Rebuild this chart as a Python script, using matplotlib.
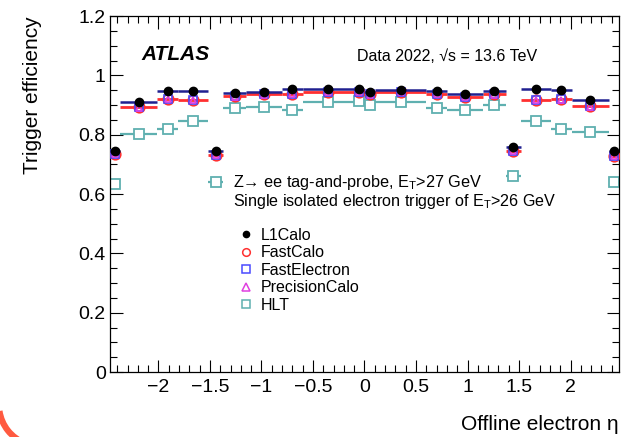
import numpy as np
import matplotlib
matplotlib.use("Agg")
import matplotlib.pyplot as plt
from matplotlib.lines import Line2D
from matplotlib.patches import Arc
from matplotlib.ticker import MultipleLocator, FuncFormatter

plt.rcParams['font.family'] = ['Liberation Sans', 'DejaVu Sans']
plt.rcParams['mathtext.fontset'] = 'custom'
plt.rcParams['mathtext.rm'] = 'Liberation Sans'
plt.rcParams['mathtext.it'] = 'Liberation Sans:italic'

# eta bin edges
edges = np.array([-2.47, -2.37, -2.01, -1.81, -1.52, -1.37, -1.15, -0.8, -0.6, -0.1, 0.0,
                  0.1, 0.6, 0.8, 1.15, 1.37, 1.52, 1.81, 2.01, 2.37, 2.47])
centers = 0.5 * (edges[1:] + edges[:-1])
halfw = 0.5 * (edges[1:] - edges[:-1])

l1calo = [0.744, 0.911, 0.947, 0.946, 0.744, 0.941, 0.945, 0.953, 0.955, 0.953,
          0.945, 0.950, 0.947, 0.939, 0.949, 0.759, 0.953, 0.950, 0.916, 0.747]
fastcalo = [0.736, 0.893, 0.921, 0.917, 0.733, 0.930, 0.936, 0.939, 0.945, 0.944,
            0.936, 0.944, 0.939, 0.927, 0.936, 0.747, 0.917, 0.919, 0.896, 0.730]
fastelectron = [0.735, 0.893, 0.921, 0.917, 0.732, 0.930, 0.936, 0.939, 0.945, 0.944,
                0.936, 0.944, 0.939, 0.927, 0.936, 0.746, 0.917, 0.919, 0.896, 0.729]
precisioncalo = [0.735, 0.892, 0.920, 0.916, 0.732, 0.929, 0.935, 0.938, 0.944, 0.943,
                 0.935, 0.943, 0.938, 0.926, 0.935, 0.746, 0.916, 0.918, 0.895, 0.729]
hlt = [0.634, 0.803, 0.820, 0.848, 0.640, 0.891, 0.893, 0.885, 0.910, 0.913,
       0.899, 0.910, 0.891, 0.885, 0.900, 0.660, 0.846, 0.820, 0.810, 0.640]

labels = ["L1Calo", "FastCalo", "FastElectron", "PrecisionCalo", "HLT"]

fig = plt.figure(figsize=(6.3, 4.37), dpi=100)
ax = fig.add_axes([0.1746, 0.1487, 0.8079, 0.8143])

c_hlt = '#5fb0b0'
c_red = '#ff3030'
c_blue = '#4a4aff'
c_mag = '#e040e0'
c_navy = '#202090'

ax.errorbar(centers, hlt, xerr=halfw, fmt='s', ms=7, mfc='white', mec=c_hlt, mew=1.3,
            ecolor=c_hlt, elinewidth=1.6, capsize=0, zorder=2)
ax.errorbar(centers, fastcalo, xerr=halfw, fmt='o', ms=7.5, mfc='none', mec=c_red, mew=1.3,
            ecolor=c_red, elinewidth=2.0, capsize=0, zorder=3)
ax.errorbar(centers, fastelectron, xerr=halfw, fmt='s', ms=5.5, mfc='none', mec=c_blue, mew=1.2,
            ecolor=c_red, elinewidth=0.01, capsize=0, zorder=4)
ax.errorbar(centers, precisioncalo, xerr=halfw, fmt='^', ms=4.5, mfc='none', mec=c_mag, mew=1.2,
            ecolor=c_mag, elinewidth=0.01, capsize=0, zorder=5)
ax.errorbar(centers, l1calo, xerr=halfw, fmt='o', ms=6, mfc='black', mec='black',
            ecolor=c_navy, elinewidth=1.8, capsize=0, zorder=6)

fmt = FuncFormatter(lambda v, p: ('%g' % v).replace('-', '\u2212'))
ax.set_xlim(-2.47, 2.47)
ax.set_ylim(0, 1.2)
ax.xaxis.set_major_locator(MultipleLocator(0.5))
ax.xaxis.set_minor_locator(MultipleLocator(0.1))
ax.yaxis.set_major_locator(MultipleLocator(0.2))
ax.yaxis.set_minor_locator(MultipleLocator(0.05))
ax.yaxis.set_major_formatter(fmt)
ax.xaxis.set_major_formatter(fmt)
ax.tick_params(which='both', direction='in', top=True, right=True, labelsize=14, width=0.8)
ax.tick_params(which='major', length=9)
ax.tick_params(which='minor', length=5)
ax.tick_params(axis='x', pad=5)
ax.tick_params(axis='y', pad=3)
for s in ax.spines.values():
    s.set_linewidth(0.9)

ax.set_xlabel("Offline electron η", loc='right', fontsize=15, labelpad=14)
ax.set_ylabel("Trigger efficiency", loc='top', fontsize=15, labelpad=26)

ax.text(0.062, 0.893, "ATLAS", transform=ax.transAxes, fontsize=15, fontweight='bold',
        style='italic', va='center', ha='left')
ax.text(0.485, 0.887, "Data 2022, √s = 13.6 TeV", transform=ax.transAxes, fontsize=11.5,
        va='center', ha='left')
ax.text(0.242, 0.533, r"Z→ ee tag-and-probe, E$_{\mathrm{T}}$>27 GeV", transform=ax.transAxes,
        fontsize=11.7, va='center', ha='left')
ax.text(0.242, 0.478, r"Single isolated electron trigger of E$_{\mathrm{T}}$>26 GeV",
        transform=ax.transAxes, fontsize=11.6, va='center', ha='left')

handles = [
    Line2D([], [], ls='none', marker='o', ms=4.5, mfc='black', mec='black'),
    Line2D([], [], ls='none', marker='o', ms=5.5, mfc='none', mec=c_red, mew=1.1),
    Line2D([], [], ls='none', marker='s', ms=5.5, mfc='none', mec=c_blue, mew=1.1),
    Line2D([], [], ls='none', marker='^', ms=5.5, mfc='none', mec=c_mag, mew=1.1),
    Line2D([], [], ls='none', marker='s', ms=5.5, mfc='none', mec=c_hlt, mew=1.1),
]
leg = ax.legend(handles, labels, loc='upper left', bbox_to_anchor=(0.252, 0.406), frameon=False,
                fontsize=11.5, handlelength=0.95, handletextpad=0.45, labelspacing=0.16,
                borderaxespad=0, borderpad=0)

# partial logo arc at bottom-left corner
arc = Arc((40 / 630, 32 / 437), 2 * 41 / 630, 2 * 41 / 437, theta1=192, theta2=255,
          transform=fig.transFigure, color='#ff5a40', lw=4.5, clip_on=False)
fig.patches.append(arc)

fig.savefig("out.png", dpi=100)
